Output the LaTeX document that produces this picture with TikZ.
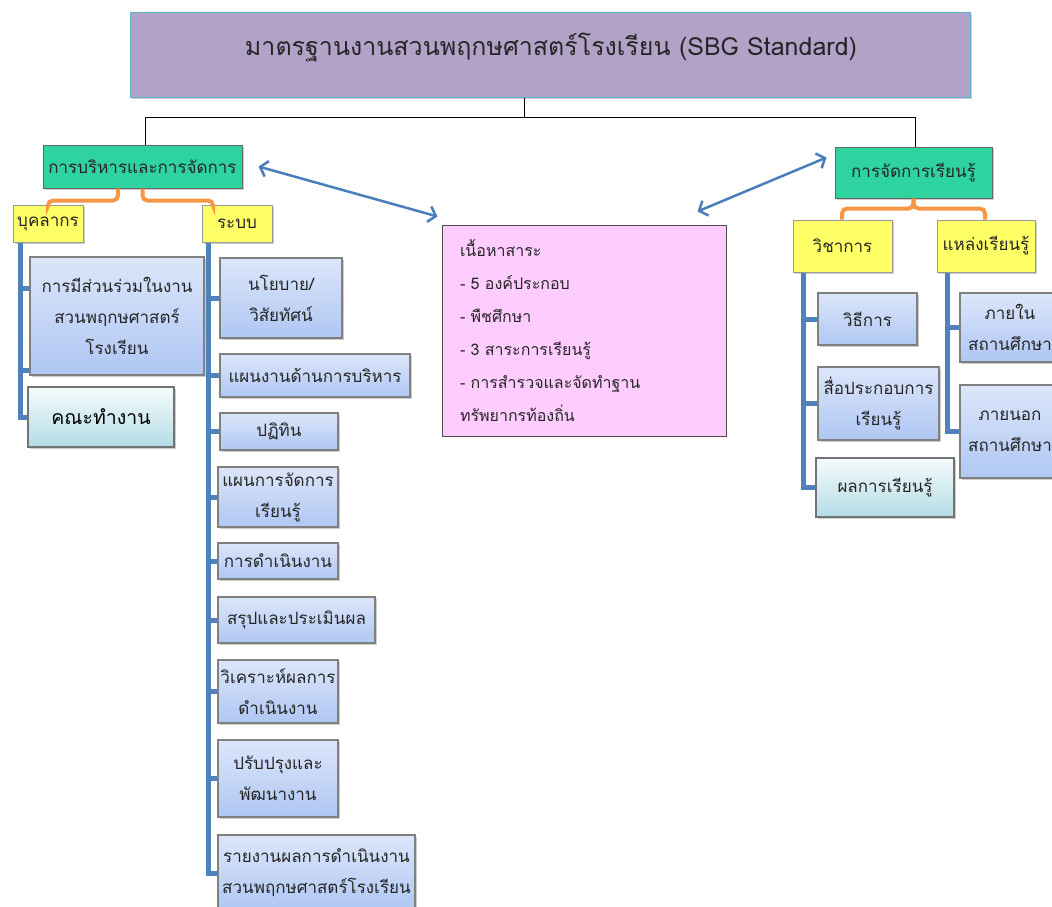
\documentclass[tikz,border=0pt]{standalone}
\usepackage{fontspec}
\newfontfamily\thai[Script=Thai]{Loma}
\usetikzlibrary{arrows.meta,shadows,calc}
\definecolor{ttl}{HTML}{B3A2C7}
\definecolor{ttlb}{HTML}{5BB3D0}
\definecolor{grn}{HTML}{2ED3A0}
\definecolor{ylw}{HTML}{FFFF66}
\definecolor{lbtop}{HTML}{DCE6FA}
\definecolor{lbbot}{HTML}{AFC7F3}
\definecolor{tltop}{HTML}{F4FBFC}
\definecolor{tlbot}{HTML}{B4DCE6}
\definecolor{pnk}{HTML}{FFCCFF}
\definecolor{org}{HTML}{F79646}
\definecolor{bln}{HTML}{4F81BD}
\definecolor{arb}{HTML}{4A7EBB}
\definecolor{txt}{HTML}{262626}
\begin{document}
\begin{tikzpicture}[x=1pt,y=-1pt,
  base/.style={font=\thai\fontsize{17}{31}\selectfont, text=txt, align=center, inner sep=0pt},
  shd/.style={drop shadow={shadow xshift=2pt,shadow yshift=-2pt,fill=black!40}},
  lbox/.style={base, shd, draw=black!50, line width=1.2pt, top color=lbtop, bottom color=lbbot},
  tbox/.style={base, shd, draw=black!55, line width=2pt, top color=tltop, bottom color=tlbot},
  gbox/.style={base, shd, draw=black!60, line width=1pt, fill=grn},
  ybox/.style={base, shd, draw=black!40, line width=1pt, fill=ylw},
  bline/.style={draw=bln, line width=5pt},
  oline/.style={draw=org, line width=4pt, rounded corners=5pt},
  arr/.style={draw=arb, line width=2.5pt, {Straight Barb[length=7pt,width=16pt]}-{Straight Barb[length=7pt,width=16pt]}},
  conn/.style={draw=black, line width=0.8pt}
]
\useasboundingbox (0,0) rectangle (1052,907);
\clip (0,0) rectangle (1052,907);

% title
\node[shd, draw=ttlb, line width=1pt, fill=ttl, minimum width=840pt, minimum height=84pt] (title) at (550,55) {};
\node[font=\thai\fontsize{25}{28}\selectfont, text=txt] (titletext) at (551,47) {มาตรฐานงานสวนพฤกษศาสตร์โรงเรียน (SBG Standard)};

% level 1
\node[gbox, minimum width=199pt, minimum height=43pt] (lg) at (142.5,166.5) {การบริหารและการจัดการ};
\node[gbox, minimum width=157pt, minimum height=51pt] (rg) at (913.5,172.5) {การจัดการเรียนรู้};

% pink
\node[base, draw=black!70, line width=1pt, fill=pnk, minimum width=284pt, minimum height=211pt,
      text width=248pt, align=left, inner xsep=18pt, font=\thai\fontsize{16}{33}\selectfont] (pink) at (584,330.5)
  {เนื้อหาสาระ\\- 5 องค์ประกอบ\\- พืชศึกษา\\- 3 สาระการเรียนรู้\\- การสำรวจและจัดทำฐาน\\ทรัพยากรท้องถิ่น};

% left yellow
\node[ybox, minimum width=70pt, minimum height=37pt] (buk) at (48,223.5) {บุคลากร};
\node[ybox, minimum width=70pt, minimum height=37pt] (sys) at (237,223.5) {ระบบ};

% bukkhalakon children
\node[lbox, minimum width=174pt, minimum height=118pt] (mp) at (117,316) {การมีส่วนร่วมในงาน\\สวนพฤกษศาสตร์\\โรงเรียน};
\node[tbox, minimum width=146pt, minimum height=60pt, font=\thai\fontsize{19.5}{31}\selectfont, text=black] (kn) at (101,417) {คณะทำงาน};

% system children
\node[lbox, minimum width=122pt, minimum height=80pt] (s1) at (281,298) {นโยบาย/\\วิสัยทัศน์};
\node[lbox, minimum width=190pt, minimum height=43pt] (s2) at (315,375.5) {แผนงานด้านการบริหาร};
\node[lbox, minimum width=118pt, minimum height=37pt] (s3) at (279,431.5) {ปฏิทิน};
\node[lbox, minimum width=120pt, minimum height=60pt] (s4) at (278,497) {แผนการจัดการ\\เรียนรู้};
\node[lbox, minimum width=120pt, minimum height=36pt] (s5) at (278,561) {การดำเนินงาน};
\node[lbox, minimum width=157pt, minimum height=46pt] (s6) at (296.5,620) {สรุปและประเมินผล};
\node[lbox, minimum width=120pt, minimum height=63pt] (s7) at (278,691.5) {วิเคราะห์ผลการ\\ดำเนินงาน};
\node[lbox, minimum width=120pt, minimum height=77pt] (s8) at (278,778.5) {ปรับปรุงและ\\พัฒนางาน};
\node[lbox, minimum width=197pt, minimum height=76pt] (s9) at (316.5,873) {รายงานผลการดำเนินงาน\\สวนพฤกษศาสตร์โรงเรียน};

% right yellow
\node[ybox, minimum width=99pt, minimum height=52pt] (vk) at (842.5,246) {วิชาการ};
\node[ybox, minimum width=98pt, minimum height=52pt] (lr) at (986,246) {แหล่งเรียนรู้};

% right children
\node[lbox, minimum width=99pt, minimum height=52pt] (r1) at (867.5,319) {วิธีการ};
\node[lbox, minimum width=121pt, minimum height=73pt] (r2) at (878.5,403.5) {สื่อประกอบการ\\เรียนรู้};
\node[tbox, minimum width=138pt, minimum height=59pt] (r3) at (885,487.5) {ผลการเรียนรู้};
\node[lbox, minimum width=100pt, minimum height=69pt] (q1) at (1010,327.5) {ภายใน\\สถานศึกษา};
\node[lbox, minimum width=100pt, minimum height=93pt] (q2) at (1010,431.5) {ภายนอก\\สถานศึกษา};

% top connector
\coordinate (hub) at (524,117);
\draw[conn] (title.south -| hub) -- (hub);
\draw[conn] (hub) -| ([xshift=2.5pt]lg.north);
\draw[conn] (hub) -| ([xshift=1.5pt]rg.north);

% orange connectors
\draw[oline] ([xshift=-24.5pt]lg.south) -- ++(0,12) -| (buk.north);
\draw[oline] (lg.south) -- ++(0,12) -| ([xshift=-24pt]sys.north);
\draw[oline] (rg.south) -- ++(0,10) -| ([xshift=-0.5pt]vk.north);
\draw[oline] (rg.south) -- ++(0,10) -| ([xshift=-1pt]lr.north);

% blue lines - left
\coordinate (bl1) at ([xshift=-28pt]buk.south);
\draw[bline] (bl1) |- (kn.west);
\draw[bline] ([yshift=28pt]mp.west) -- ([yshift=28pt]mp.west -| bl1);
\draw[bline] ([yshift=-54pt]mp.west) -- ([yshift=-54pt]mp.west -| bl1);

\coordinate (bl2) at ([xshift=-29pt]sys.south);
\draw[bline] (bl2) |- (s9.west);
\foreach \n in {s1,s2,s3,s4,s5,s6,s7,s8}
  \draw[bline] (\n.west) -- (\n.west -| bl2);

% blue lines - right
\coordinate (bl3) at ([xshift=-39.5pt]vk.south);
\draw[bline] (bl3) |- (r3.west);
\draw[bline] (r1.west) -- (r1.west -| bl3);
\draw[bline] (r2.west) -- (r2.west -| bl3);

\coordinate (bl4) at ([xshift=-39pt]lr.south);
\draw[bline] (bl4) |- (q2.west);
\draw[bline] (q1.west) -- (q1.west -| bl4);

% arrows
\draw[arr] ([xshift=16pt]lg.east) -- ([shift={(-4pt,8pt)}]pink.north west);
\draw[arr] ([shift={(-29pt,13pt)}]pink.north east) -- ([shift={(-8pt,15pt)}]rg.west);
\end{tikzpicture}
\end{document}
